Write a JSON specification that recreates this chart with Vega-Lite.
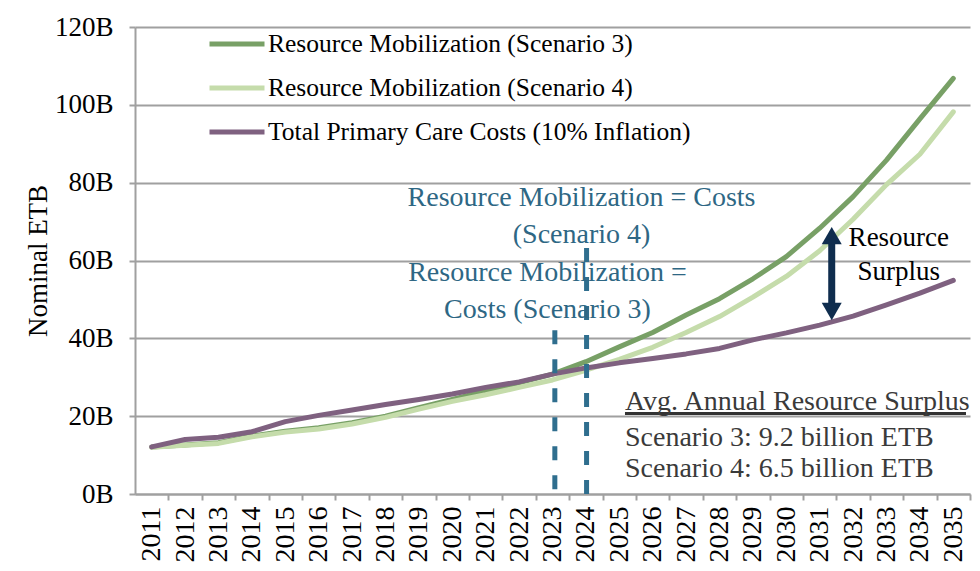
{
  "$schema": "https://vega.github.io/schema/vega-lite/v6.json",
  "autosize": "none",
  "width": 835,
  "height": 467,
  "padding": {"left": 135, "top": 27, "right": 10, "bottom": 77},
  "background": "white",
  "config": {
    "view": {"stroke": null},
    "font": "Liberation Serif",
    "axis": {
      "domainColor": "#a0a0a0",
      "domainWidth": 2,
      "tickColor": "#a0a0a0",
      "tickWidth": 2,
      "gridColor": "#a0a0a0",
      "gridWidth": 2,
      "labelFont": "Liberation Serif",
      "labelColor": "#000000",
      "titleFont": "Liberation Serif",
      "titleColor": "#000000",
      "titleFontWeight": "normal"
    },
    "axisX": {"labelOverlap": false, "labelFontSize": 28, "labelAngle": -90, "labelFont": "Liberation Serif"}
  },
  "datasets": {
    "series": [
      {"year": 2011, "series": "Resource Mobilization (Scenario 3)", "value": 12.1},
      {"year": 2012, "series": "Resource Mobilization (Scenario 3)", "value": 12.6},
      {"year": 2013, "series": "Resource Mobilization (Scenario 3)", "value": 13.2},
      {"year": 2014, "series": "Resource Mobilization (Scenario 3)", "value": 14.9},
      {"year": 2015, "series": "Resource Mobilization (Scenario 3)", "value": 16.1},
      {"year": 2016, "series": "Resource Mobilization (Scenario 3)", "value": 17.0},
      {"year": 2017, "series": "Resource Mobilization (Scenario 3)", "value": 18.3},
      {"year": 2018, "series": "Resource Mobilization (Scenario 3)", "value": 20.0},
      {"year": 2019, "series": "Resource Mobilization (Scenario 3)", "value": 22.2},
      {"year": 2020, "series": "Resource Mobilization (Scenario 3)", "value": 24.3},
      {"year": 2021, "series": "Resource Mobilization (Scenario 3)", "value": 26.5},
      {"year": 2022, "series": "Resource Mobilization (Scenario 3)", "value": 28.6},
      {"year": 2023, "series": "Resource Mobilization (Scenario 3)", "value": 30.8},
      {"year": 2024, "series": "Resource Mobilization (Scenario 3)", "value": 34.0},
      {"year": 2025, "series": "Resource Mobilization (Scenario 3)", "value": 37.8},
      {"year": 2026, "series": "Resource Mobilization (Scenario 3)", "value": 41.5},
      {"year": 2027, "series": "Resource Mobilization (Scenario 3)", "value": 46.0},
      {"year": 2028, "series": "Resource Mobilization (Scenario 3)", "value": 50.2},
      {"year": 2029, "series": "Resource Mobilization (Scenario 3)", "value": 55.3},
      {"year": 2030, "series": "Resource Mobilization (Scenario 3)", "value": 61.0},
      {"year": 2031, "series": "Resource Mobilization (Scenario 3)", "value": 68.3},
      {"year": 2032, "series": "Resource Mobilization (Scenario 3)", "value": 76.4},
      {"year": 2033, "series": "Resource Mobilization (Scenario 3)", "value": 85.8},
      {"year": 2034, "series": "Resource Mobilization (Scenario 3)", "value": 96.4},
      {"year": 2035, "series": "Resource Mobilization (Scenario 3)", "value": 106.8},
      {"year": 2011, "series": "Resource Mobilization (Scenario 4)", "value": 12.0},
      {"year": 2012, "series": "Resource Mobilization (Scenario 4)", "value": 12.5},
      {"year": 2013, "series": "Resource Mobilization (Scenario 4)", "value": 13.0},
      {"year": 2014, "series": "Resource Mobilization (Scenario 4)", "value": 14.7},
      {"year": 2015, "series": "Resource Mobilization (Scenario 4)", "value": 15.9},
      {"year": 2016, "series": "Resource Mobilization (Scenario 4)", "value": 16.7},
      {"year": 2017, "series": "Resource Mobilization (Scenario 4)", "value": 18.0},
      {"year": 2018, "series": "Resource Mobilization (Scenario 4)", "value": 19.7},
      {"year": 2019, "series": "Resource Mobilization (Scenario 4)", "value": 21.8},
      {"year": 2020, "series": "Resource Mobilization (Scenario 4)", "value": 23.8},
      {"year": 2021, "series": "Resource Mobilization (Scenario 4)", "value": 25.5},
      {"year": 2022, "series": "Resource Mobilization (Scenario 4)", "value": 27.4},
      {"year": 2023, "series": "Resource Mobilization (Scenario 4)", "value": 29.3},
      {"year": 2024, "series": "Resource Mobilization (Scenario 4)", "value": 31.8},
      {"year": 2025, "series": "Resource Mobilization (Scenario 4)", "value": 34.6},
      {"year": 2026, "series": "Resource Mobilization (Scenario 4)", "value": 37.7},
      {"year": 2027, "series": "Resource Mobilization (Scenario 4)", "value": 41.5},
      {"year": 2028, "series": "Resource Mobilization (Scenario 4)", "value": 45.6},
      {"year": 2029, "series": "Resource Mobilization (Scenario 4)", "value": 50.6},
      {"year": 2030, "series": "Resource Mobilization (Scenario 4)", "value": 55.9},
      {"year": 2031, "series": "Resource Mobilization (Scenario 4)", "value": 62.5},
      {"year": 2032, "series": "Resource Mobilization (Scenario 4)", "value": 70.6},
      {"year": 2033, "series": "Resource Mobilization (Scenario 4)", "value": 79.5},
      {"year": 2034, "series": "Resource Mobilization (Scenario 4)", "value": 87.3},
      {"year": 2035, "series": "Resource Mobilization (Scenario 4)", "value": 98.2},
      {"year": 2011, "series": "Total Primary Care Costs (10% Inflation)", "value": 12.1},
      {"year": 2012, "series": "Total Primary Care Costs (10% Inflation)", "value": 14.0},
      {"year": 2013, "series": "Total Primary Care Costs (10% Inflation)", "value": 14.6},
      {"year": 2014, "series": "Total Primary Care Costs (10% Inflation)", "value": 16.0},
      {"year": 2015, "series": "Total Primary Care Costs (10% Inflation)", "value": 18.6},
      {"year": 2016, "series": "Total Primary Care Costs (10% Inflation)", "value": 20.2},
      {"year": 2017, "series": "Total Primary Care Costs (10% Inflation)", "value": 21.6},
      {"year": 2018, "series": "Total Primary Care Costs (10% Inflation)", "value": 23.0},
      {"year": 2019, "series": "Total Primary Care Costs (10% Inflation)", "value": 24.3},
      {"year": 2020, "series": "Total Primary Care Costs (10% Inflation)", "value": 25.7},
      {"year": 2021, "series": "Total Primary Care Costs (10% Inflation)", "value": 27.4},
      {"year": 2022, "series": "Total Primary Care Costs (10% Inflation)", "value": 28.8},
      {"year": 2023, "series": "Total Primary Care Costs (10% Inflation)", "value": 30.8},
      {"year": 2024, "series": "Total Primary Care Costs (10% Inflation)", "value": 32.4},
      {"year": 2025, "series": "Total Primary Care Costs (10% Inflation)", "value": 33.7},
      {"year": 2026, "series": "Total Primary Care Costs (10% Inflation)", "value": 34.8},
      {"year": 2027, "series": "Total Primary Care Costs (10% Inflation)", "value": 36.0},
      {"year": 2028, "series": "Total Primary Care Costs (10% Inflation)", "value": 37.4},
      {"year": 2029, "series": "Total Primary Care Costs (10% Inflation)", "value": 39.6},
      {"year": 2030, "series": "Total Primary Care Costs (10% Inflation)", "value": 41.4},
      {"year": 2031, "series": "Total Primary Care Costs (10% Inflation)", "value": 43.4},
      {"year": 2032, "series": "Total Primary Care Costs (10% Inflation)", "value": 45.7},
      {"year": 2033, "series": "Total Primary Care Costs (10% Inflation)", "value": 48.6},
      {"year": 2034, "series": "Total Primary Care Costs (10% Inflation)", "value": 51.6},
      {"year": 2035, "series": "Total Primary Care Costs (10% Inflation)", "value": 54.9}
    ],
    "teal": [
      {"year": 2023.87, "value": 76.1, "t": "Resource Mobilization = Costs"},
      {"year": 2023.87, "value": 66.6, "t": "(Scenario 4)"},
      {"year": 2022.85, "value": 56.8, "t": "Resource Mobilization ="},
      {"year": 2022.85, "value": 47.3, "t": "Costs (Scenario 3)"}
    ],
    "dashes": [
      {"year": 2023.07, "value": 42.1, "value2": 0},
      {"year": 2024.02, "value": 63.2, "value2": 0}
    ],
    "arrow": [
      {"year": 2031.36, "value": 46.9, "value2": 66.4}
    ],
    "heads": [
      {"year": 2031.36, "value": 66.4, "dir": "up"},
      {"year": 2031.36, "value": 46.9, "dir": "down"}
    ],
    "surplus": [
      {"year": 2033.37, "value": 65.8, "t": "Resource"},
      {"year": 2033.37, "value": 57.0, "t": "Surplus"}
    ],
    "avg": [
      {"year": 2025.17, "value": 23.6, "t": "Avg. Annual Resource Surplus"},
      {"year": 2025.17, "value": 14.4, "t": "Scenario 3: 9.2 billion ETB"},
      {"year": 2025.17, "value": 6.4, "t": "Scenario 4: 6.5 billion ETB"}
    ],
    "underline": [
      {"year": 2025.17, "year2": 2035.38, "value": 20.7}
    ]
  },
  "encoding": {
    "x": {
      "field": "year", "type": "quantitative",
      "scale": {"domain": [2010.5, 2035.5], "nice": false, "zero": false},
      "axis": {
        "values": [2011, 2012, 2013, 2014, 2015, 2016, 2017, 2018, 2019, 2020, 2021, 2022, 2023, 2024, 2025, 2026, 2027, 2028, 2029, 2030, 2031, 2032, 2033, 2034, 2035],
        "format": "d",
        "title": null,
        "grid": false,
        "labelAngle": -90,
        "labelFontSize": 28,
        "tickOffset": 16.7,
        "labelOffset": -16.7,
        "tickSize": 6,
        "labelPadding": 6,
        "labelFlush": false,
        "labelOverlap": false,
        "labelSeparation": 0
      }
    },
    "y": {
      "field": "value", "type": "quantitative",
      "scale": {"domain": [0, 120], "nice": false},
      "axis": {
        "values": [0, 20, 40, 60, 80, 100, 120],
        "labelExpr": "datum.value + 'B'",
        "title": "Nominal ETB",
        "titleFontSize": 27,
        "titlePadding": 2,
        "labelFontSize": 27,
        "tickSize": 6,
        "labelPadding": 16,
        "grid": true
      }
    }
  },
  "layer": [
    {
      "data": {"name": "series"},
      "transform": [{"filter": "datum.series === 'Resource Mobilization (Scenario 3)'"}],
      "mark": {"type": "line", "strokeWidth": 5, "strokeCap": "round", "strokeJoin": "round"},
      "encoding": {
        "color": {
          "field": "series", "type": "nominal",
          "scale": {
            "domain": ["Resource Mobilization (Scenario 3)", "Resource Mobilization (Scenario 4)", "Total Primary Care Costs (10% Inflation)"],
            "range": ["#78a066", "#c5dcab", "#7f6180"]
          },
          "legend": {
            "title": null,
            "orient": "none",
            "legendX": 72,
            "legendY": -13,
            "symbolType": "stroke",
            "symbolSize": 3025,
            "symbolStrokeWidth": 5,
            "labelFont": "Liberation Serif",
            "labelFontSize": 25.5,
            "labelColor": "#000000",
            "labelOffset": 1,
            "rowPadding": -1.5,
            "padding": 0,
            "labelLimit": 600
          }
        }
      }
    },
    {
      "data": {"name": "series"},
      "transform": [{"filter": "datum.series === 'Resource Mobilization (Scenario 4)'"}],
      "mark": {"type": "line", "strokeWidth": 5, "strokeCap": "round", "strokeJoin": "round"},
      "encoding": {"color": {"field": "series", "type": "nominal"}}
    },
    {
      "data": {"name": "series"},
      "transform": [{"filter": "datum.series === 'Total Primary Care Costs (10% Inflation)'"}],
      "mark": {"type": "line", "strokeWidth": 5, "strokeCap": "round", "strokeJoin": "round"},
      "encoding": {"color": {"field": "series", "type": "nominal"}}
    },
    {
      "data": {"name": "dashes"},
      "mark": {"type": "rule", "strokeWidth": 5, "strokeDash": [14, 15], "color": "#2f6e8e"},
      "encoding": {"y2": {"field": "value2"}}
    },
    {
      "data": {"name": "teal"},
      "mark": {"type": "text", "font": "Liberation Serif", "fontSize": 28, "color": "#2e6784", "align": "center", "baseline": "middle"},
      "encoding": {"text": {"field": "t"}}
    },
    {
      "data": {"name": "arrow"},
      "mark": {"type": "rule", "strokeWidth": 7, "color": "#0f2d4e"},
      "encoding": {"y2": {"field": "value2"}}
    },
    {
      "data": {"name": "heads"},
      "mark": {"type": "point", "filled": true, "size": 400, "color": "#0f2d4e", "opacity": 1},
      "encoding": {
        "shape": {
          "field": "dir", "type": "nominal",
          "scale": {"domain": ["up", "down"], "range": ["triangle-up", "triangle-down"]},
          "legend": null
        }
      }
    },
    {
      "data": {"name": "surplus"},
      "mark": {"type": "text", "font": "Liberation Serif", "fontSize": 27, "color": "#000000", "align": "center", "baseline": "middle"},
      "encoding": {"text": {"field": "t"}}
    },
    {
      "data": {"name": "underline"},
      "mark": {"type": "rule", "strokeWidth": 3, "color": "#333333"},
      "encoding": {"x2": {"field": "year2"}}
    },
    {
      "data": {"name": "avg"},
      "mark": {"type": "text", "font": "Liberation Serif", "fontSize": 28, "color": "#3a3a3a", "align": "left", "baseline": "middle"},
      "encoding": {"text": {"field": "t"}}
    }
  ]
}
